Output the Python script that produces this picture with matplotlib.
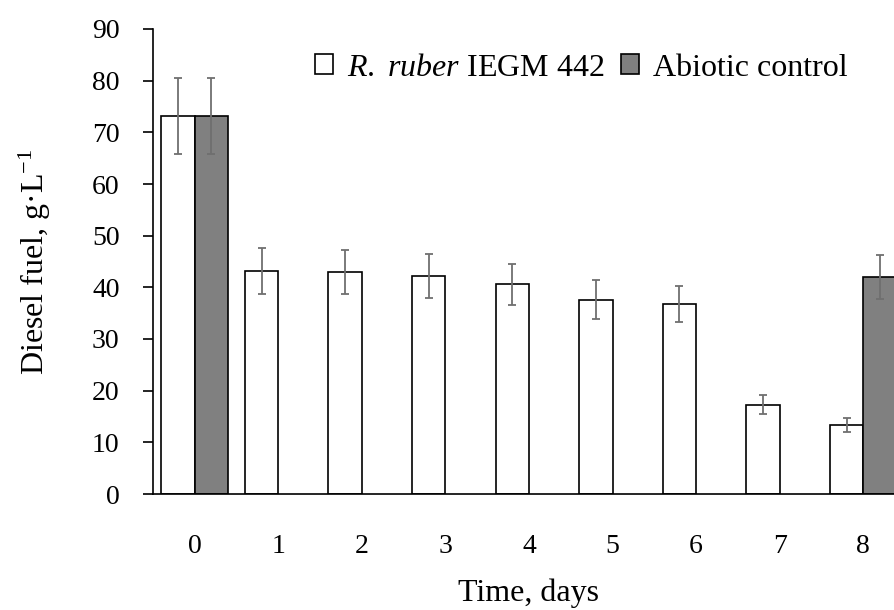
import matplotlib
matplotlib.use("Agg")
import matplotlib.pyplot as plt
import numpy as np

# Data
days = ["0", "1", "2", "3", "4", "5", "6", "7", "8"]
ruber = [73.2, 43.2, 43.0, 42.2, 40.6, 37.6, 36.8, 17.3, 13.4]
ruber_err = [7.4, 4.4, 4.3, 4.2, 4.0, 3.8, 3.5, 1.8, 1.4]
abiotic = [73.2, np.nan, np.nan, np.nan, np.nan, np.nan, np.nan, np.nan, 42.0]
abiotic_err = [7.4, np.nan, np.nan, np.nan, np.nan, np.nan, np.nan, np.nan, 4.2]

plt.rcParams['font.family'] = ['Liberation Serif', 'DejaVu Serif']
plt.rcParams['mathtext.fontset'] = 'custom'
plt.rcParams['mathtext.rm'] = 'Liberation Serif'
plt.rcParams['mathtext.it'] = 'Liberation Serif:italic'
plt.rcParams['font.size'] = 23

fig = plt.figure(figsize=(8.94, 6.10), dpi=100)
# axes runs past the right edge, as in the cropped original
ax = fig.add_axes([153 / 894, 116 / 610, 752 / 894, 465 / 610])

x = np.arange(len(days))
w = 0.4
err_kw = dict(ecolor='#6f6f6f', elinewidth=1.3, capsize=3, capthick=1.3)

ax.bar(x - w / 2, ruber, w, yerr=ruber_err, color='white', edgecolor='black',
       linewidth=1.2, error_kw=err_kw, label=r'$\mathit{R.}$ $\mathit{ruber}$ IEGM 442')
ax.bar(x + w / 2, abiotic, w, yerr=abiotic_err, color='#808080', edgecolor='black',
       linewidth=1.2, error_kw=err_kw, label='Abiotic control')

ax.set_xlim(-0.5, len(days) - 0.5)
ax.set_ylim(0, 90)
ax.set_yticks(np.arange(0, 91, 10))
ax.set_xticks(x)
ax.set_xticklabels(days)

ax.spines['top'].set_visible(False)
ax.spines['right'].set_visible(False)
ax.spines['left'].set_linewidth(1.2)
ax.spines['bottom'].set_linewidth(1.2)
ax.tick_params(axis='y', length=7, width=1.2, pad=17, labelsize=20)
ax.tick_params(axis='x', length=0, pad=29, labelsize=20)

ax.set_xlabel('Time, days', labelpad=14)
ax.set_ylabel(r'Diesel fuel, g·L$^{-1}$', labelpad=28)

fig.legend(loc='center left', bbox_to_anchor=(315 / 894, 1 - 68 / 610), ncol=2,
           frameon=False, handlelength=0.56, handleheight=0.56, handletextpad=0.44,
           columnspacing=0.53, borderaxespad=0, borderpad=0)

fig.savefig('out.png', dpi=100)
